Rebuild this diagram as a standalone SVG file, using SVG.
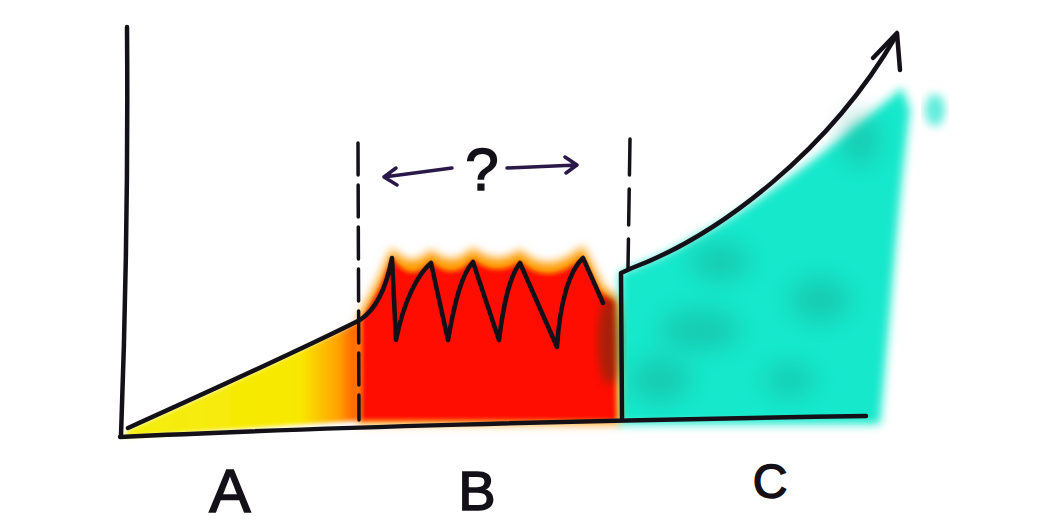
<svg xmlns="http://www.w3.org/2000/svg" width="1044" height="525" viewBox="0 0 1044 525">
<style>
.ink{fill:none;stroke:#141018;stroke-width:4.5;stroke-linecap:round;stroke-linejoin:round}
.dash{fill:none;stroke:#141018;stroke-width:3.5;stroke-linecap:round}
.purple{fill:none;stroke:#2a1848;stroke-width:3.5;stroke-linecap:round;stroke-linejoin:round}
.lbl{font-family:"Liberation Sans",Arial,sans-serif;fill:#141018;stroke:#141018;stroke-width:1.5;text-anchor:middle}
</style>
<defs>
<linearGradient id="gA" gradientUnits="userSpaceOnUse" x1="128" y1="0" x2="368" y2="0">
<stop offset="0" stop-color="#f4ee10"/>
<stop offset="0.72" stop-color="#f8e800"/>
<stop offset="0.88" stop-color="#ffa000"/>
<stop offset="1" stop-color="#ff2a00"/>
</linearGradient>
<filter id="blur2" x="-10%" y="-10%" width="120%" height="120%"><feGaussianBlur stdDeviation="2"/></filter>
<filter id="blur5" x="-20%" y="-20%" width="140%" height="140%"><feGaussianBlur stdDeviation="5"/></filter>
<filter id="blur12" x="-50%" y="-50%" width="200%" height="200%"><feGaussianBlur stdDeviation="12"/></filter>
</defs>
<rect width="1044" height="525" fill="#ffffff"/>

<g id="area-a">
<path d="M128,430 C 200,398 300,352 362,320 L 366,420 L 124,437 Z" fill="url(#gA)" filter="url(#blur2)"/>
</g>

<g id="area-c">
<path d="M620,273 L632,268 C 720,235 830,150 902,88 L 910,110 C 898,200 890,320 880,424 L 618,424 Z" fill="#12e8cc" filter="url(#blur5)"/>
<ellipse cx="935" cy="110" rx="10" ry="16" fill="#60ecdc" filter="url(#blur5)"/>
<g fill="#18a890" opacity="0.45" filter="url(#blur12)">
<ellipse cx="720" cy="262" rx="30" ry="18"/>
<ellipse cx="700" cy="330" rx="40" ry="20"/>
<ellipse cx="820" cy="300" rx="30" ry="22"/>
<ellipse cx="860" cy="140" rx="18" ry="26"/>
<ellipse cx="660" cy="380" rx="30" ry="22"/>
<ellipse cx="790" cy="380" rx="25" ry="15"/>
</g>
</g>

<g id="area-b">
<path d="M358,318 L378,280 L392,248 Q410,272 431,250 Q452,270 473,248 Q496,268 520,250 Q548,278 583,246 L602,285 L618,300 L620,424 L358,424 Z" fill="#ff9a00" filter="url(#blur5)"/>
<path d="M362,320 L380,288 L392,258 Q410,285 431,262 Q452,282 473,260 Q496,278 520,262 Q548,288 583,258 L600,292 L614,302 L616,420 L362,420 Z" fill="#ff0a00" filter="url(#blur2)"/>
<ellipse cx="610" cy="340" rx="12" ry="45" fill="#403818" opacity="0.45" filter="url(#blur5)"/>
</g>

<g id="axes">
<path class="ink" d="M127,27 C 128,150 126,300 121,436"/>
<path class="ink" d="M120,437 C 300,428 600,420 866,416"/>
</g>

<g id="dividers">
<path class="dash" d="M358,143 L359,420" stroke-dasharray="32,10"/>
<path class="dash" d="M630,139 L628,268" stroke-dasharray="36,14"/>
</g>

<g id="curve">
<path class="ink" d="M128,428 C 190,400 300,350 360,320 C 375,310 386,290 392,258 L 396,340 C 404,300 418,274 431,263 L 448,340 C 455,300 462,274 473,262 L 499,340 C 504,300 510,276 520,263 L 557,347 C 560,300 570,270 583,258 L 603,303"/>
<path class="ink" d="M622,418 L621,273 L632,268 C 720,235 830,150 896,36"/>
<path class="ink" d="M873,58 L897,33 L900,70"/>
</g>

<g id="question">
<path class="purple" d="M452,168 L384,177 M396,168 L384,177 L397,185"/>
<path class="purple" d="M507,168 L577,165 M565,157 L577,165 L566,173"/>
<text class="lbl" x="482" y="190" font-size="60" fill="#1a1030" stroke-width="0.5">?</text>
</g>

<g id="labels">
<text class="lbl" x="230" y="512" font-size="62">A</text>
<text class="lbl" x="477" y="510" font-size="56">B</text>
<text class="lbl" x="770" y="498" font-size="48">C</text>
</g>
</svg>
